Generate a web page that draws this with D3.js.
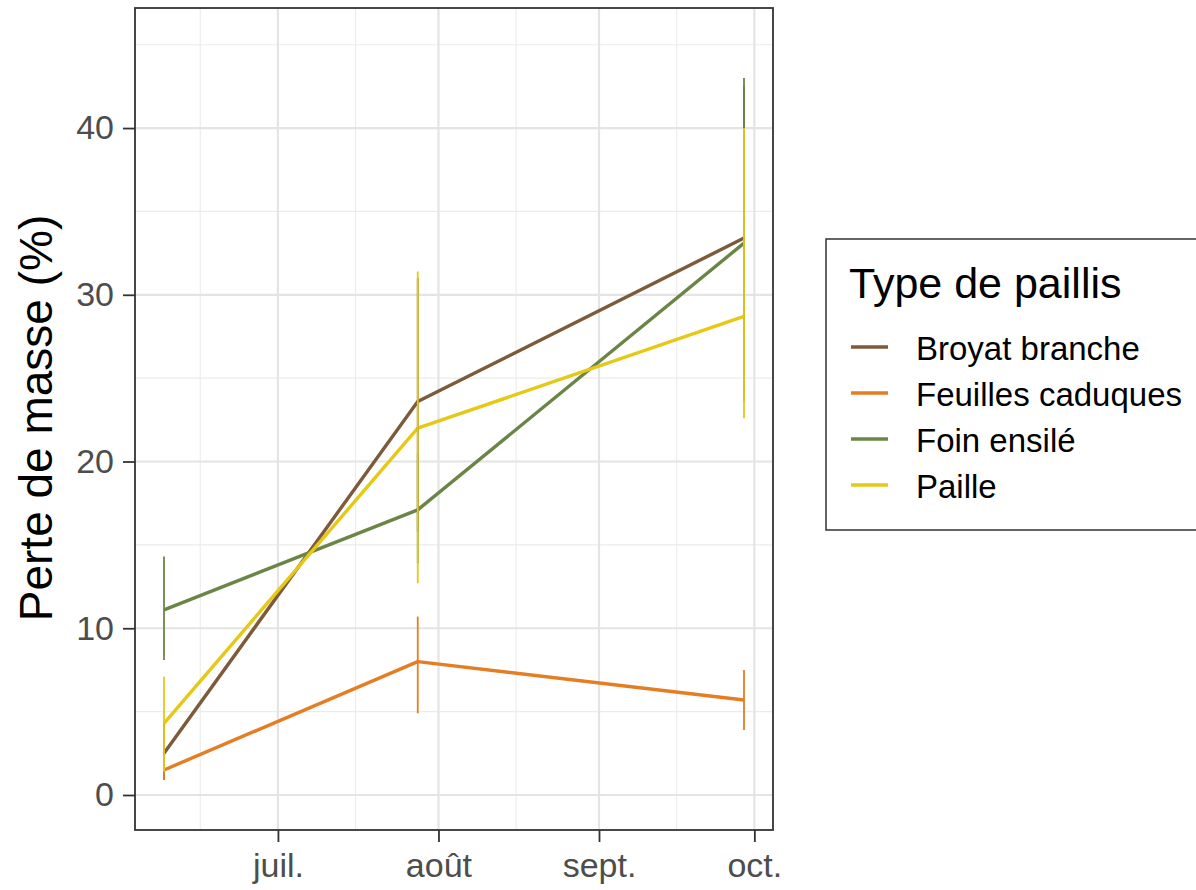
<!DOCTYPE html>
<html>
<head>
<meta charset="utf-8">
<script src="https://cdn.jsdelivr.net/npm/d3@7"></script>
<style>
  html, body { margin: 0; padding: 0; background: #fff; }
  svg { display: block; font-family: "Liberation Sans", Arial, sans-serif; }
</style>
</head>
<body>
<svg id="chart" width="1196" height="890"></svg>
<script>
// Sampling dates
const dates = ["2021-06-09", "2021-07-28", "2021-09-29"];

// Mulch types (legend order)
const types = ["Broyat branche", "Feuilles caduques", "Foin ensilé", "Paille"];
const colors = ["#7d5a3a", "#e57e22", "#6b8547", "#e6c817"];

// Mean mass loss (%) per type at each date
const broyatMean = [2.5, 23.6, 33.4];
const feuillesMean = [1.5, 8.0, 5.7];
const foinMean = [11.1, 17.1, 33.1];
const pailleMean = [4.3, 22.0, 28.7];

// Error bar bounds
const broyatLow = [0.9, 15.8, 24.0];
const broyatHigh = [4.3, 31.0, 42.5];
const feuillesLow = [0.9, 4.9, 3.9];
const feuillesHigh = [2.2, 10.7, 7.5];
const foinLow = [8.1, 13.9, 23.6];
const foinHigh = [14.3, 20.5, 43.0];
const pailleLow = [1.4, 12.7, 22.6];
const pailleHigh = [7.1, 31.4, 40.0];

// Axis ticks
const yTicks = [0, 10, 20, 30, 40];
const yMinor = [5, 15, 25, 35, 45];
const xTickDates = ["2021-07-01", "2021-08-01", "2021-09-01", "2021-10-01"];
const xTickLabels = ["juil.", "août", "sept.", "oct."];
const xMinorDates = ["2021-06-16", "2021-07-16", "2021-08-16", "2021-09-16"];

const parse = d3.utcParse("%Y-%m-%d");
const means = [broyatMean, feuillesMean, foinMean, pailleMean];
const lows = [broyatLow, feuillesLow, foinLow, pailleLow];
const highs = [broyatHigh, feuillesHigh, foinHigh, pailleHigh];

const series = types.map((t, i) => ({
  name: t,
  color: colors[i],
  values: dates.map((d, j) => ({ date: parse(d), mean: means[i][j], low: lows[i][j], high: highs[i][j] }))
}));

const panel = { left: 135, right: 773, top: 8, bottom: 830 };

// x: date extent expanded by 5% on each side
const dExt = d3.extent(dates, parse);
const span = dExt[1] - dExt[0];
const x = d3.scaleUtc()
  .domain([new Date(+dExt[0] - span * 0.05), new Date(+dExt[1] + span * 0.05)])
  .range([panel.left, panel.right]);

const y = d3.scaleLinear().domain([-2.1, 47.2]).range([panel.bottom, panel.top]);

const svg = d3.select("#chart");

// Panel background
svg.append("rect")
  .attr("x", panel.left).attr("y", panel.top)
  .attr("width", panel.right - panel.left).attr("height", panel.bottom - panel.top)
  .attr("fill", "#fff");

const grid = svg.append("g");
// Minor grid
grid.selectAll(".ymin").data(yMinor).join("line")
  .attr("x1", panel.left).attr("x2", panel.right)
  .attr("y1", d => y(d)).attr("y2", d => y(d))
  .attr("stroke", "#ebebeb").attr("stroke-width", 1.1);
grid.selectAll(".xmin").data(xMinorDates).join("line")
  .attr("x1", d => x(parse(d))).attr("x2", d => x(parse(d)))
  .attr("y1", panel.top).attr("y2", panel.bottom)
  .attr("stroke", "#ebebeb").attr("stroke-width", 1.1);
// Major grid
grid.selectAll(".ymaj").data(yTicks).join("line")
  .attr("x1", panel.left).attr("x2", panel.right)
  .attr("y1", d => y(d)).attr("y2", d => y(d))
  .attr("stroke", "#e4e4e4").attr("stroke-width", 2.2);
grid.selectAll(".xmaj").data(xTickDates).join("line")
  .attr("x1", d => x(parse(d))).attr("x2", d => x(parse(d)))
  .attr("y1", panel.top).attr("y2", panel.bottom)
  .attr("stroke", "#e4e4e4").attr("stroke-width", 2.2);

// Lines
const line = d3.line().x(d => x(d.date)).y(d => y(d.mean));
svg.append("g").selectAll("path").data(series).join("path")
  .attr("d", d => line(d.values))
  .attr("fill", "none")
  .attr("stroke", d => d.color)
  .attr("stroke-width", 3.4)
  .attr("stroke-linejoin", "round");

// Error bars
const eb = svg.append("g");
series.forEach(s => {
  eb.selectAll(null).data(s.values).join("line")
    .attr("x1", d => x(d.date)).attr("x2", d => x(d.date))
    .attr("y1", d => y(d.low)).attr("y2", d => y(d.high))
    .attr("stroke", s.color)
    .attr("stroke-width", 1.8);
});

// Panel border
svg.append("rect")
  .attr("x", panel.left).attr("y", panel.top)
  .attr("width", panel.right - panel.left).attr("height", panel.bottom - panel.top)
  .attr("fill", "none").attr("stroke", "#333").attr("stroke-width", 1.8);

// Y axis
const yAxis = d3.axisLeft(y).tickValues(yTicks).tickSize(12).tickPadding(9);
const gy = svg.append("g").attr("transform", `translate(${panel.left},0)`).call(yAxis);
gy.select(".domain").remove();
gy.selectAll(".tick line").attr("stroke", "#333").attr("stroke-width", 1.8);
gy.selectAll(".tick text").attr("fill", "#4d4d4d").attr("font-size", 34)
  .attr("font-family", "Liberation Sans, Arial, sans-serif");

// X axis
const xAxis = d3.axisBottom(x).tickValues(xTickDates.map(parse))
  .tickFormat((d, i) => xTickLabels[i]).tickSize(12).tickPadding(11);
const gx = svg.append("g").attr("transform", `translate(0,${panel.bottom})`).call(xAxis);
gx.select(".domain").remove();
gx.selectAll(".tick line").attr("stroke", "#333").attr("stroke-width", 1.8);
gx.selectAll(".tick text").attr("fill", "#4d4d4d").attr("font-size", 34)
  .attr("font-family", "Liberation Sans, Arial, sans-serif");

// Y axis title
svg.append("text")
  .attr("transform", `translate(52,418) rotate(-90)`)
  .attr("text-anchor", "middle")
  .attr("font-size", 46)
  .attr("fill", "#000")
  .text("Perte de masse (%)");

// Legend
const lg = svg.append("g");
lg.append("rect")
  .attr("x", 826).attr("y", 239).attr("width", 380).attr("height", 291)
  .attr("fill", "#fff").attr("stroke", "#333").attr("stroke-width", 1.5);
lg.append("text")
  .attr("x", 849).attr("y", 298)
  .attr("font-size", 43).attr("fill", "#000")
  .text("Type de paillis");
const items = lg.selectAll(".item").data(series).join("g")
  .attr("transform", (d, i) => `translate(0,${347 + i * 46})`);
items.append("line")
  .attr("x1", 851).attr("x2", 888).attr("y1", 0).attr("y2", 0)
  .attr("stroke", d => d.color).attr("stroke-width", 3.4);
items.append("text")
  .attr("x", 916).attr("y", 0).attr("dy", "0.38em")
  .attr("font-size", 33).attr("fill", "#000")
  .text(d => d.name);
</script>
</body>
</html>
